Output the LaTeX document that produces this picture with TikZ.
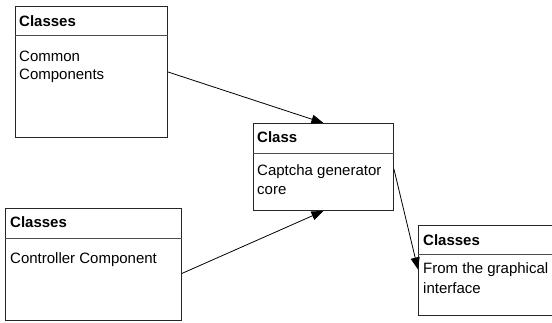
\documentclass[tikz,border=0pt]{standalone}
\usepackage{fontspec}
\setmainfont{Liberation Sans}
\usetikzlibrary{arrows.meta}
\begin{document}
\begin{tikzpicture}[x=1pt,y=-1pt,
  classbox/.style={draw=black!85, line width=0.9pt, inner sep=0pt, anchor=north west},
  sepline/.style={draw=black!70, line width=0.9pt},
  txt/.style={anchor=base west, inner sep=0pt, font=\fontsize{15}{18}\selectfont},
  ttl/.style={txt, font=\fontsize{15}{18}\selectfont\bfseries},
  link/.style={draw=black, line width=0.8pt, -{Triangle[length=12pt,width=9pt]}}]
\useasboundingbox (0,0) rectangle (552,322);
\clip (0,0) rectangle (552,322);
\fill[white] (0,0) rectangle (552,322);

% Common Components
\node[classbox, minimum width=152pt, minimum height=131pt] (c1) at (15,6) {};
\draw[sepline] ([yshift=-29pt]c1.north west) -- ([yshift=-29pt]c1.north east);
\node[ttl] (c1h) at (19,26) {Classes};
\node[txt] (c1a) at (19,61) {Common};
\node[txt] (c1b) at (19,79) {Components};

% Captcha generator core
\node[classbox, minimum width=140pt, minimum height=87pt] (c2) at (253,123) {};
\draw[sepline] ([yshift=-30pt]c2.north west) -- ([yshift=-30pt]c2.north east);
\node[ttl] (c2h) at (257,142) {Class};
\node[txt] (c2a) at (257,175) {Captcha generator};
\node[txt] (c2b) at (257,194) {core};

% Controller Component
\node[classbox, minimum width=176pt, minimum height=112pt] (c3) at (5,208) {};
\draw[sepline] ([yshift=-30pt]c3.north west) -- ([yshift=-30pt]c3.north east);
\node[ttl] (c3h) at (10,227) {Classes};
\node[txt] (c3a) at (10,263) {Controller Component};

% Graphical interface (runs past the right edge)
\node[classbox, minimum width=170pt, minimum height=90pt] (c4) at (418,225) {};
\draw[sepline] ([yshift=-29pt]c4.north west) -- ([yshift=-29pt]c4.north east);
\node[ttl] (c4h) at (423,245) {Classes};
\node[txt] (c4a) at (423,273) {From the graphical};
\node[txt] (c4b) at (423,293) {interface};

% Associations
\draw[link] (c1.east) -- (c2.north);
\draw[link] ([yshift=-9pt]c3.east) -- (c2.south);
\draw[link] ([yshift=-2pt]c2.east) -- ([yshift=1pt]c4.west);
\end{tikzpicture}
\end{document}
